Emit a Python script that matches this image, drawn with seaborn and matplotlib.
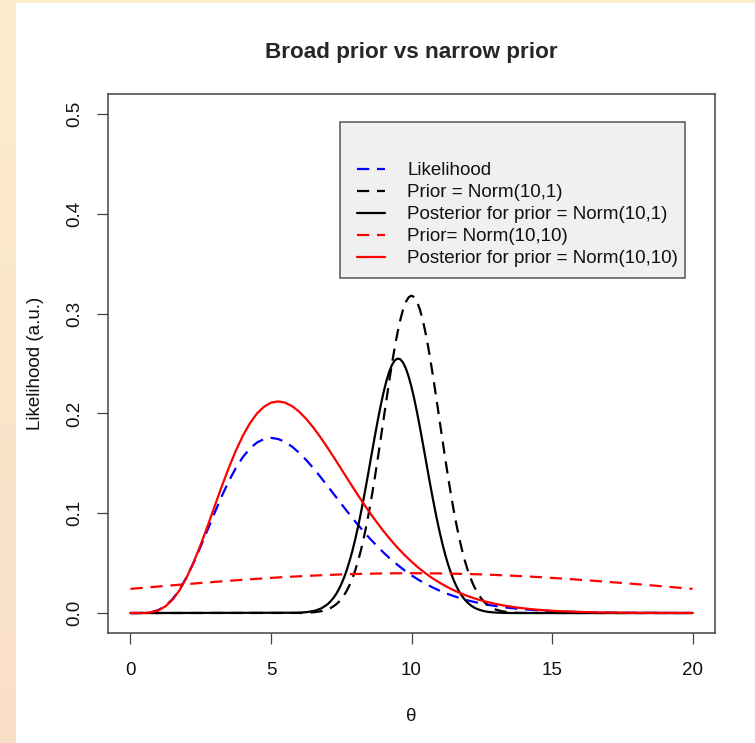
import numpy as np
import pandas as pd
import matplotlib
matplotlib.use("Agg")
import matplotlib.pyplot as plt
from matplotlib.patches import Rectangle
import seaborn as sns

# ---------------- data ----------------
theta_fine = [0.0, 0.25, 0.5, 0.75, 1.0, 1.25, 1.5, 1.75, 2.0, 2.25, 2.5, 2.75, 3.0, 3.25, 3.5, 3.75,
              4.0, 4.25, 4.5, 4.75, 5.0, 5.25, 5.5, 5.75, 6.0, 6.25, 6.5, 6.75, 7.0, 7.25, 7.5, 7.75,
              8.0, 8.25, 8.5, 8.75, 9.0, 9.25, 9.5, 9.75, 10.0, 10.25, 10.5, 10.75, 11.0, 11.25,
              11.5, 11.75, 12.0, 12.25, 12.5, 12.75, 13.0, 13.25, 13.5, 13.75, 14.0, 14.25, 14.5,
              14.75, 15.0, 15.25, 15.5, 15.75, 16.0, 16.25, 16.5, 16.75, 17.0, 17.25, 17.5, 17.75,
              18.0, 18.25, 18.5, 18.75, 19.0, 19.25, 19.5, 19.75, 20.0]

likelihood = [0.0000, 0.0000, 0.0002, 0.0009, 0.0031, 0.0073, 0.0141, 0.0238, 0.0361, 0.0507,
              0.0668, 0.0838, 0.1008, 0.1172, 0.1322, 0.1453, 0.1563, 0.1648, 0.1708, 0.1743,
              0.1755, 0.1744, 0.1714, 0.1667, 0.1606, 0.1534, 0.1454, 0.1367, 0.1277, 0.1186,
              0.1094, 0.1004, 0.0916, 0.0832, 0.0752, 0.0678, 0.0607, 0.0542, 0.0483, 0.0428,
              0.0378, 0.0333, 0.0293, 0.0257, 0.0224, 0.0195, 0.0170, 0.0147, 0.0127, 0.0110,
              0.0095, 0.0081, 0.0070, 0.0060, 0.0051, 0.0044, 0.0037, 0.0032, 0.0027, 0.0023,
              0.0019, 0.0016, 0.0014, 0.0012, 0.0010, 0.0008, 0.0007, 0.0006, 0.0005, 0.0004,
              0.0003, 0.0003, 0.0002, 0.0002, 0.0002, 0.0002, 0.0001, 0.0001, 0.0001, 0.0001, 0.0001]

posterior_broad = [0.0000, 0.0000, 0.0001, 0.0008, 0.0028, 0.0068, 0.0134, 0.0230, 0.0357, 0.0511,
                   0.0686, 0.0876, 0.1074, 0.1270, 0.1456, 0.1627, 0.1777, 0.1901, 0.1999, 0.2067,
                   0.2108, 0.2120, 0.2108, 0.2073, 0.2018, 0.1946, 0.1861, 0.1765, 0.1662, 0.1554,
                   0.1443, 0.1332, 0.1222, 0.1115, 0.1012, 0.0915, 0.0822, 0.0736, 0.0656, 0.0582,
                   0.0515, 0.0453, 0.0398, 0.0348, 0.0304, 0.0264, 0.0229, 0.0197, 0.0170, 0.0146,
                   0.0125, 0.0107, 0.0091, 0.0077, 0.0066, 0.0055, 0.0047, 0.0039, 0.0033, 0.0028,
                   0.0023, 0.0019, 0.0016, 0.0013, 0.0011, 0.0009, 0.0008, 0.0006, 0.0005, 0.0004,
                   0.0004, 0.0003, 0.0002, 0.0002, 0.0002, 0.0002, 0.0001, 0.0001, 0.0001, 0.0001, 0.0001]

theta_half = [0.0, 0.5, 1.0, 1.5, 2.0, 2.5, 3.0, 3.5, 4.0, 4.5, 5.0, 5.5, 6.0, 6.5, 7.0,
              7.5, 8.0, 8.5, 9.0, 9.5, 10.0, 10.5, 11.0, 11.5, 12.0, 12.5, 13.0, 13.5,
              14.0, 14.5, 15.0, 15.5, 16.0, 16.5, 17.0, 17.5, 18.0, 18.5, 19.0, 19.5, 20.0]

prior_broad = [0.0242, 0.0254, 0.0266, 0.0278, 0.0290, 0.0301, 0.0312, 0.0323, 0.0333, 0.0343,
               0.0352, 0.0361, 0.0368, 0.0375, 0.0381, 0.0387, 0.0391, 0.0394, 0.0397, 0.0398,
               0.0399, 0.0398, 0.0397, 0.0394, 0.0391, 0.0387, 0.0381, 0.0375, 0.0368, 0.0361,
               0.0352, 0.0343, 0.0333, 0.0323, 0.0312, 0.0301, 0.0290, 0.0278, 0.0266, 0.0254, 0.0242]

theta_narrow = [0.0, 6.0, 6.3, 6.6, 6.8,
                7.0, 7.1, 7.2, 7.3, 7.4, 7.5, 7.6, 7.7, 7.8, 7.9,
                8.0, 8.1, 8.2, 8.3, 8.4, 8.5, 8.6, 8.7, 8.8, 8.9,
                9.0, 9.1, 9.2, 9.3, 9.4, 9.5, 9.6, 9.7, 9.8, 9.9,
                10.0, 10.1, 10.2, 10.3, 10.4, 10.5, 10.6, 10.7, 10.8, 10.9,
                11.0, 11.1, 11.2, 11.3, 11.4, 11.5, 11.6, 11.7, 11.8, 11.9,
                12.0, 12.1, 12.2, 12.3, 12.4, 12.5, 12.6, 12.7, 12.8, 12.9,
                13.0, 13.2, 13.4, 13.7, 14.0, 20.0]

prior_narrow = [0.0, 0.0001, 0.0003, 0.0010, 0.0019,
                0.0035, 0.0047, 0.0063, 0.0083, 0.0108, 0.0140, 0.0178, 0.0226, 0.0283, 0.0351,
                0.0430, 0.0523, 0.0629, 0.0750, 0.0884, 0.1032, 0.1193, 0.1366, 0.1548, 0.1737,
                0.1929, 0.2121, 0.2309, 0.2489, 0.2656, 0.2806, 0.2936, 0.3040, 0.3117, 0.3164,
                0.3180, 0.3164, 0.3117, 0.3040, 0.2936, 0.2806, 0.2656, 0.2489, 0.2309, 0.2121,
                0.1929, 0.1737, 0.1548, 0.1366, 0.1193, 0.1032, 0.0884, 0.0750, 0.0629, 0.0523,
                0.0430, 0.0351, 0.0283, 0.0226, 0.0178, 0.0140, 0.0108, 0.0083, 0.0063, 0.0047,
                0.0035, 0.0019, 0.0010, 0.0003, 0.0001, 0.0]

posterior_narrow = [0.0, 0.0003, 0.0010, 0.0026, 0.0048,
                    0.0085, 0.0111, 0.0143, 0.0182, 0.0230, 0.0288, 0.0355, 0.0434, 0.0525, 0.0627,
                    0.0742, 0.0868, 0.1005, 0.1151, 0.1304, 0.1462, 0.1621, 0.1779, 0.1931, 0.2074,
                    0.2204, 0.2318, 0.2412, 0.2483, 0.2529, 0.2549, 0.2543, 0.2509, 0.2450, 0.2368,
                    0.2264, 0.2143, 0.2006, 0.1859, 0.1705, 0.1547, 0.1389, 0.1234, 0.1086, 0.0945,
                    0.0814, 0.0694, 0.0585, 0.0488, 0.0404, 0.0330, 0.0267, 0.0214, 0.0169, 0.0133,
                    0.0103, 0.0079, 0.0060, 0.0045, 0.0034, 0.0025, 0.0018, 0.0013, 0.0009, 0.0007,
                    0.0005, 0.0002, 0.0001, 0.0, 0.0, 0.0]

x_ticks = [0, 5, 10, 15, 20]
x_tick_labels = ["0", "5", "10", "15", "20"]
y_ticks = [0.0, 0.1, 0.2, 0.3, 0.4, 0.5]
y_tick_labels = ["0.0", "0.1", "0.2", "0.3", "0.4", "0.5"]

legend_labels = ["Likelihood", "Prior = Norm(10,1)", "Posterior for prior = Norm(10,1)",
                 "Prior= Norm(10,10)", "Posterior for prior = Norm(10,10)"]
title_text = "Broad prior vs narrow prior"
xlabel_text = "\u03b8"
ylabel_text = "Likelihood (a.u.)"

# ---------------- style ----------------
sns.set_style("white")
plt.rcParams['font.family'] = ['Liberation Sans', 'DejaVu Sans']
BASE = 13.5

W, H = 755, 743
fig = plt.figure(figsize=(W / 100, H / 100), dpi=100)
fig.patch.set_facecolor("white")

# cream screenshot border (left strip + thin top strip)
strip = fig.add_axes([0, 0, 16 / W, 1])
grad = np.linspace(0, 1, 256)[:, None]
top_c = np.array([252, 237, 204]) / 255
bot_c = np.array([249, 223, 199]) / 255
img = top_c[None, None, :] * (1 - grad[..., None]) + bot_c[None, None, :] * grad[..., None]
strip.imshow(img, aspect="auto", extent=[0, 1, 0, 1], origin="upper")
strip.set_axis_off()
topstrip = fig.add_axes([0, 1 - 3 / H, 1, 3 / H])
topstrip.set_facecolor(top_c)
topstrip.set_xticks([]); topstrip.set_yticks([])
for s in topstrip.spines.values():
    s.set_visible(False)

# main axes: box from x=108..715, y=94..633 (pixels)
ax = fig.add_axes([108 / W, 1 - 633 / H, 607 / W, 539 / H])
ax.set_facecolor("white")

LW = 1.6
dash = (0, (5.5, 3.5))
df_f = pd.DataFrame({"theta": theta_fine, "lik": likelihood, "postb": posterior_broad})
df_h = pd.DataFrame({"theta": theta_half, "pb": prior_broad})
df_n = pd.DataFrame({"theta": theta_narrow, "pn": prior_narrow, "postn": posterior_narrow})

common = dict(ax=ax, linewidth=LW, solid_joinstyle="round", dash_joinstyle="round")
sns.lineplot(data=df_f, x="theta", y="lik", color="#0000ff", linestyle=dash,
             label=legend_labels[0], **common)
sns.lineplot(data=df_n, x="theta", y="pn", color="black", linestyle=dash,
             label=legend_labels[1], **common)
sns.lineplot(data=df_n, x="theta", y="postn", color="black", linestyle="-",
             label=legend_labels[2], **common)
sns.lineplot(data=df_h, x="theta", y="pb", color="#ff0000", linestyle=dash,
             label=legend_labels[3], **common)
sns.lineplot(data=df_f, x="theta", y="postb", color="#ff0000", linestyle="-",
             label=legend_labels[4], **common)

ax.set_xlim(-0.8, 20.8)
ax.set_ylim(-0.02, 0.52)
ax.set_xticks(x_ticks)
ax.set_xticklabels(x_tick_labels)
ax.set_yticks(y_ticks)
ax.set_yticklabels(y_tick_labels, rotation=90, va="center")

for s in ax.spines.values():
    s.set_visible(True)
    s.set_color("#444444")
    s.set_linewidth(1.1)

ax.tick_params(axis="both", direction="out", length=8.1, width=0.9, color="#444444",
               labelsize=BASE, labelcolor="#111111")
ax.tick_params(axis="x", bottom=True, pad=12.5)
ax.tick_params(axis="y", left=True, pad=9.7)

ax.set_title(title_text, fontsize=BASE * 1.2, fontweight="bold", pad=26)
ax.set_xlabel(xlabel_text, fontsize=BASE, color="#111111")
ax.set_ylabel(ylabel_text, fontsize=BASE, color="#111111")
ax.xaxis.set_label_coords(0.5, -0.139)
ax.yaxis.set_label_coords(-0.1054, 0.5)

# legend box (R-style grey panel)
box = Rectangle(((340 - 108) / 607, (633 - 278) / 539), 345 / 607, 156 / 539,
                transform=ax.transAxes, facecolor="#f0f0f0", edgecolor="#555555",
                linewidth=1.1, zorder=4)
ax.add_patch(box)
handles, labels = ax.get_legend_handles_labels()
leg = ax.legend(handles, labels, loc="upper left",
                bbox_to_anchor=((357 - 108) / 607, (633 - 162) / 539),
                frameon=False, fontsize=BASE, handlelength=1.5, handletextpad=1.17,
                labelspacing=0.26, borderpad=0, borderaxespad=0)
leg.set_zorder(5)
for t in leg.get_texts():
    t.set_color("#111111")

fig.savefig("out.png", dpi=100, facecolor=fig.get_facecolor())
